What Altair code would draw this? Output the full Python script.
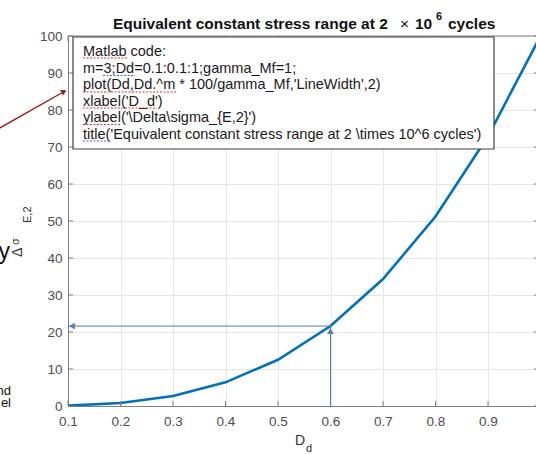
import altair as alt
import pandas as pd

# ---- data ----
Dd = [0.1, 0.2, 0.3, 0.4, 0.5, 0.6, 0.7, 0.8, 0.9, 1.0]
stress = [0.1, 0.8, 2.7, 6.4, 12.5, 21.6, 34.3, 51.2, 72.9, 100.0]
x_ticks = [0.1, 0.2, 0.3, 0.4, 0.5, 0.6, 0.7, 0.8, 0.9]
y_ticks = [0, 10, 20, 30, 40, 50, 60, 70, 80, 90, 100]
code_lines = [
    "Matlab code:",
    "m=3;Dd=0.1:0.1:1;gamma_Mf=1;",
    "plot(Dd,Dd.^m * 100/gamma_Mf,'LineWidth',2)",
    "xlabel('D_d')",
    "ylabel('\\Delta\\sigma_{E,2}')",
    "title('Equivalent constant stress range at 2 \\times 10^6 cycles')",
]
mark_Dd = [0.6]
mark_stress = [21.6]

FONT = "Liberation Sans"
W, H = 468, 370
XMAX = 0.1 + W / 525.0
AX = "#7f7f7f"
LAB = "#4d4d4d"

df = pd.DataFrame({"Dd": Dd, "stress": stress})
xt = pd.DataFrame({"t": x_ticks})
yt = pd.DataFrame({"t": y_ticks})
mk = pd.DataFrame({"x": mark_Dd, "y": mark_stress, "x0": [x_ticks[0]], "y0": [0]})
one = alt.Chart(pd.DataFrame({"a": [0]}))

xs = alt.Scale(domain=[0.1, XMAX], nice=False, zero=False)
ys = alt.Scale(domain=[0, 100], nice=False)

xaxis = alt.Axis(values=x_ticks, format=".1f", title=None, grid=True, gridColor="#e6e6e6",
                 domainColor=AX, tickSize=0, labelPadding=8, labelFontSize=13.5,
                 labelColor=LAB, labelFont=FONT, labelFlush=False, labelOverlap=False)
yaxis = alt.Axis(values=y_ticks, title=None, grid=True, gridColor="#e6e6e6",
                 domainColor=AX, tickSize=0, labelPadding=6, labelFontSize=13.5,
                 labelColor=LAB, labelFont=FONT, labelFlush=False, labelOverlap=False)


def X(f):
    return alt.X(f, scale=xs, axis=xaxis, title=None)


def Y(f):
    return alt.Y(f, scale=ys, axis=yaxis, title=None)


curve = alt.Chart(df).mark_line(color="#0072BD", strokeWidth=2.6, clip=True).encode(
    x=X("Dd:Q"), y=Y("stress:Q"))

tick_b = alt.Chart(xt).mark_rule(color=AX).encode(
    x=X("t:Q"), y=alt.value(H), y2=alt.value(H - 5))
tick_t = alt.Chart(xt).mark_rule(color=AX).encode(
    x=X("t:Q"), y=alt.value(0), y2=alt.value(5))
tick_l = alt.Chart(yt).mark_rule(color=AX).encode(
    y=Y("t:Q"), x=alt.value(0), x2=alt.value(5))
tick_r = alt.Chart(yt).mark_rule(color=AX).encode(
    y=Y("t:Q"), x=alt.value(W - 2), x2=alt.value(W + 5))
top_border = one.mark_rule(color=AX).encode(x=alt.value(0), x2=alt.value(W + 5), y=alt.value(0))

ARC = "#4f7fbf"
h_arrow = alt.Chart(mk).mark_rule(color=ARC, strokeWidth=1).encode(
    x=X("x:Q"), x2="x0:Q", y=Y("y:Q"))
v_arrow = alt.Chart(mk).mark_rule(color=ARC, strokeWidth=1).encode(
    x=X("x:Q"), y=Y("y0:Q"), y2="y:Q")
h_head = alt.Chart(mk).mark_point(shape="triangle-left", filled=True, color=ARC, size=45,
                                  opacity=1, xOffset=4).encode(x=X("x0:Q"), y=Y("y:Q"))
v_head = alt.Chart(mk).mark_point(shape="triangle-up", filled=True, color=ARC, size=45,
                                  opacity=1, yOffset=5).encode(x=X("x:Q"), y=Y("y:Q"))

box = one.mark_rect(fill="white", stroke="#404040", strokeWidth=1.2).encode(
    x=alt.value(5), x2=alt.value(426), y=alt.value(1), y2=alt.value(113))


def txt(s, x, y, size=14, bold=False, color="#111", align="left", baseline="alphabetic", angle=None):
    kw = dict(align=align, baseline=baseline, font=FONT, fontSize=size, color=color,
              fontWeight="bold" if bold else "normal")
    if angle is not None:
        kw["angle"] = angle
    return one.mark_text(**kw).encode(x=alt.value(x), y=alt.value(y), text=alt.value(s))


code_txt = [txt(s, 15, 16 + i * 16.6, 14.5, color="#1a1a1a", baseline="middle")
            for i, s in enumerate(code_lines)]


# spell-check style underlines in the text box
def squiggle(x1, x2, y, color):
    return one.mark_rule(color=color, strokeWidth=1.2, strokeDash=[2, 1.5]).encode(
        x=alt.value(x1), x2=alt.value(x2), y=alt.value(y))


underlines = [
    squiggle(15, 60, 22, "#d33"),
    squiggle(35, 67, 39.5, "#4a6fc0"),
    squiggle(15, 109, 56, "#d33"),
    squiggle(15, 89, 72, "#d33"),
    squiggle(15, 52, 88.5, "#d33"),
    squiggle(15, 40, 105, "#4a6fc0"),
]

title_parts = [
    txt("Equivalent constant stress range at 2", 45, -7.5, 15.5, True),
    txt("\u00d7", 332, -7.5, 15.5, False),
    txt("10", 347, -7.5, 15.5, True),
    txt("6", 368, -16, 11, True),
    txt("cycles", 380, -7.5, 15.5, True),
]

xlabel = [txt("D", 227, 409, 14, color="#333"), txt("d", 238, 416, 11, color="#333")]
ylabel = [txt("\u0394", -50.5, 221, 14, color="#333", baseline="middle", angle=270),
          txt("\u03c3", -52, 209, 11, color="#333", baseline="middle", angle=270),
          txt("E,2", -40.5, 187, 11, color="#333", baseline="middle", angle=270)]

# red annotation arrow from outside
red_line = one.mark_rule(color="#9b1b1b", strokeWidth=1.4).encode(
    x=alt.value(-70), x2=alt.value(-3), y=alt.value(93), y2=alt.value(55))
red_head = one.mark_point(shape="triangle-up", filled=True, color="#9b1b1b", size=40,
                          opacity=1, angle=61).encode(x=alt.value(-4), y=alt.value(55.5))

side = [txt("y", -58, 223, 23, color="#111", align="right"),
        txt("nd", -57, 359, 13, color="#111", align="right"),
        txt("el", -57, 371, 13, color="#111", align="right")]

chart = alt.layer(
    curve, tick_b, tick_t, tick_l, tick_r, top_border,
    h_arrow, v_arrow, h_head, v_head,
    box, *code_txt, *underlines, *title_parts, *xlabel, *ylabel, red_line, red_head, *side,
).properties(
    width=W, height=H,
    autosize=alt.AutoSizeParams(type="none"),
    padding={"left": 68, "top": 36, "right": 0, "bottom": 48},
).configure_view(stroke=None)

chart.save("out.html", embed_options={"renderer": "svg", "actions": False})
